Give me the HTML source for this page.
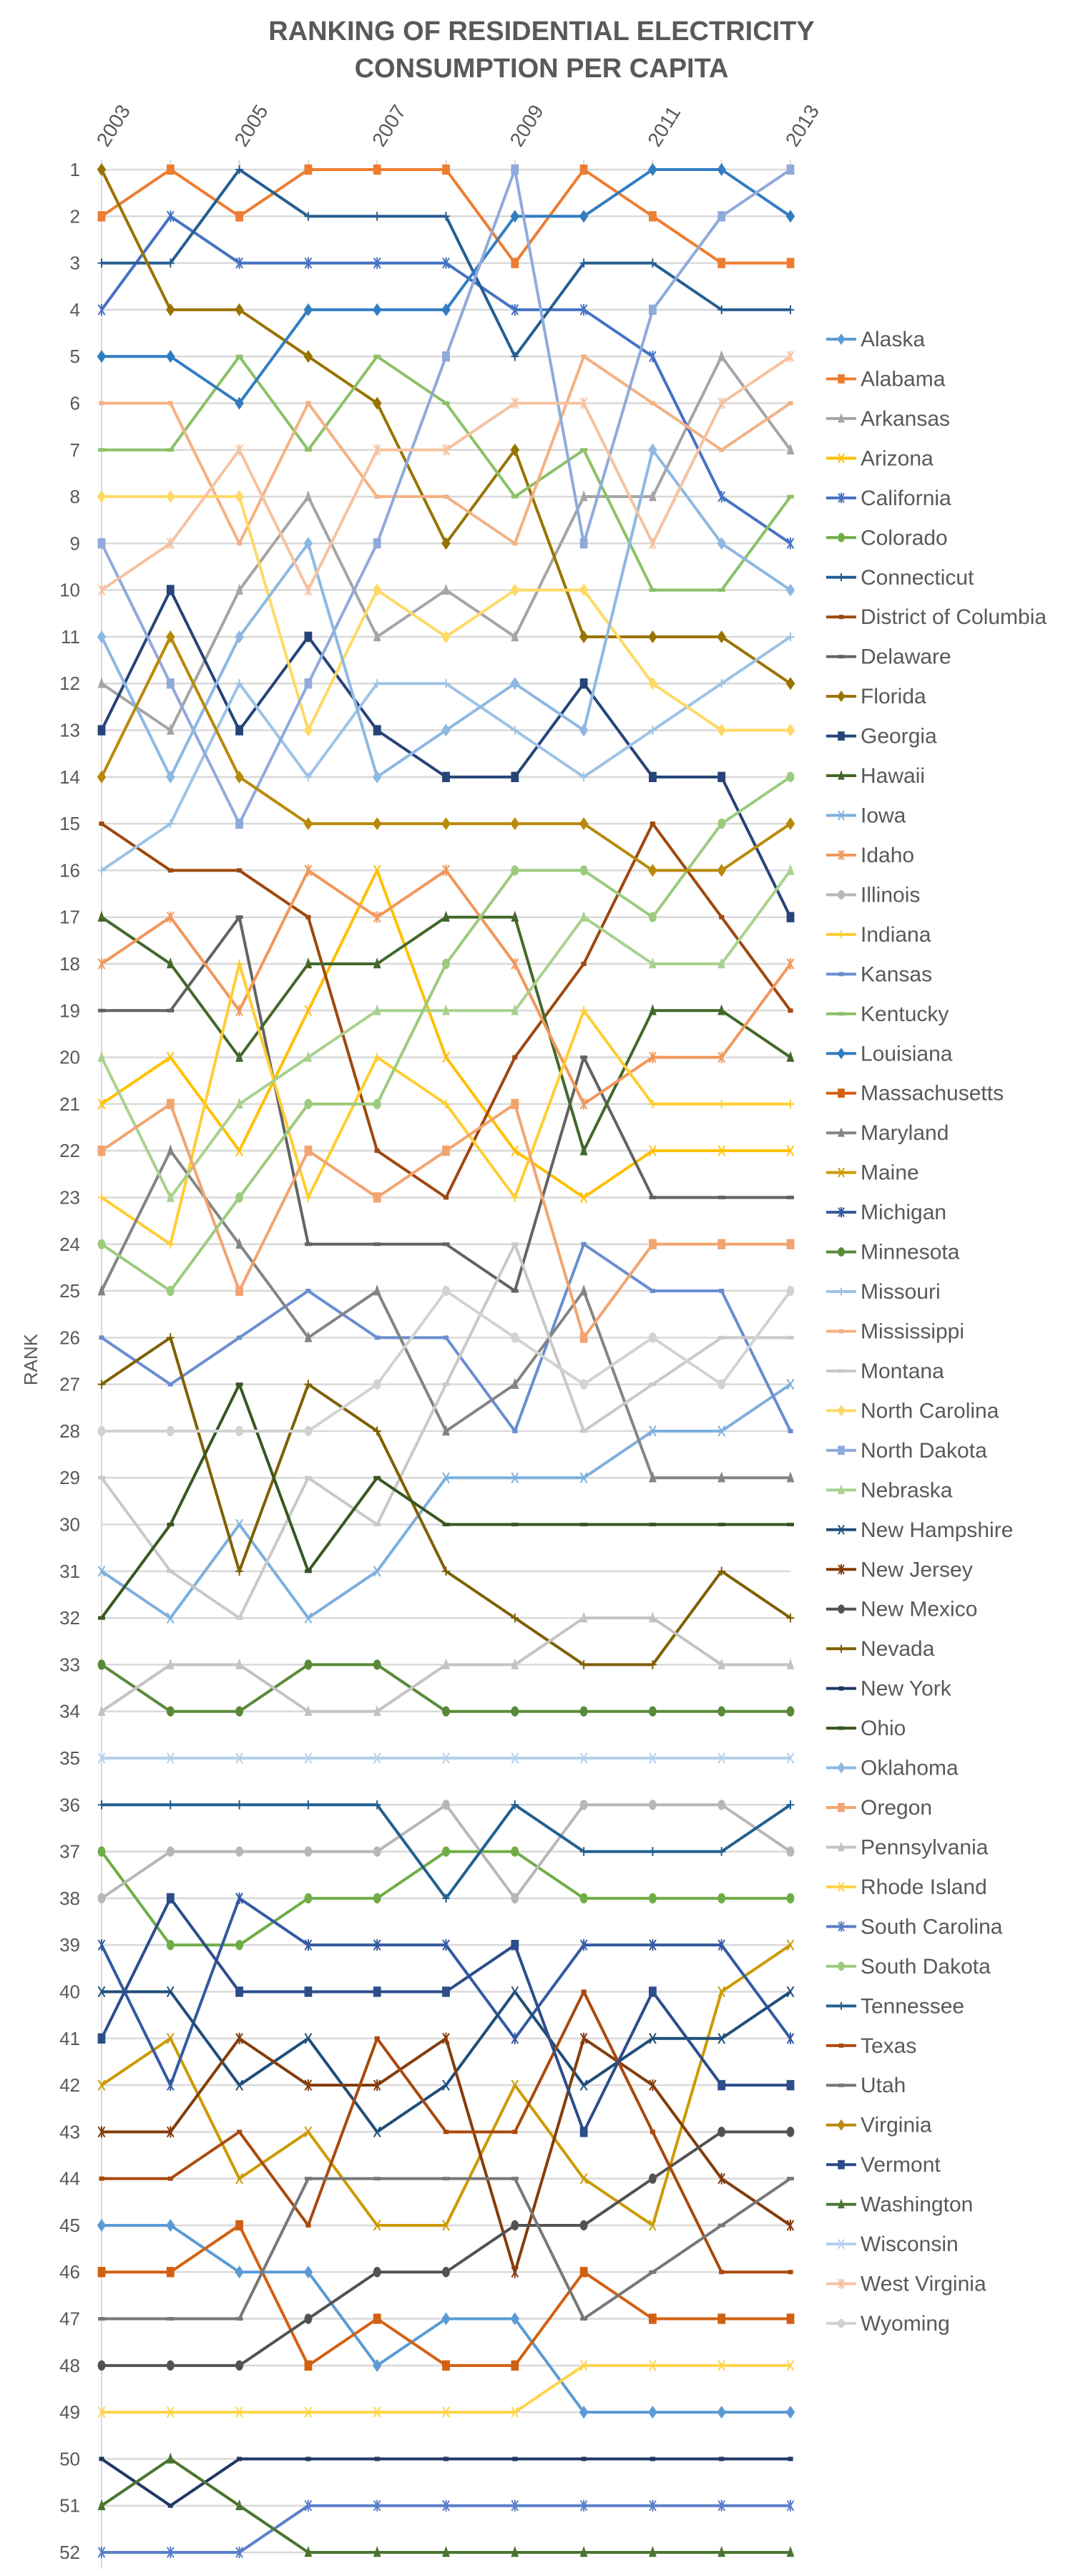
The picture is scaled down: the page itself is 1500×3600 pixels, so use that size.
<!DOCTYPE html>
<html>
<head>
<meta charset="utf-8">
<style>
  html, body { margin: 0; padding: 0; background: #ffffff; }
  svg { display: block; font-family: "Liberation Sans", sans-serif; }
</style>
</head>
<body>
<svg id="chart" width="1500" height="3600" viewBox="0 0 1500 3600" xmlns="http://www.w3.org/2000/svg">
  <text x="757" y="56" text-anchor="middle" font-size="38" font-weight="bold" fill="#595959">RANKING OF RESIDENTIAL ELECTRICITY</text>
  <text x="757" y="108" text-anchor="middle" font-size="38" font-weight="bold" fill="#595959">CONSUMPTION PER CAPITA</text>
  <text x="0" y="0" transform="translate(52,1900) rotate(-90)" text-anchor="middle" font-size="26" fill="#595959">RANK</text>
  <g id="grid"></g>
  <g id="yticks"></g>
  <g id="xticks"></g>
  <g id="series"></g>
  <g id="legend"></g>
</svg>
<script>
const years = [2003, 2004, 2005, 2006, 2007, 2008, 2009, 2010, 2011, 2012, 2013];
const yearLabels = ["2003", "2005", "2007", "2009", "2011", "2013"];
const rankTicks = [1,2,3,4,5,6,7,8,9,10,11,12,13,14,15,16,17,18,19,20,21,22,23,24,25,26,27,28,29,30,31,32,33,34,35,36,37,38,39,40,41,42,43,44,45,46,47,48,49,50,51,52];
const stateNames = ["Alaska","Alabama","Arkansas","Arizona","California","Colorado","Connecticut","District of Columbia","Delaware","Florida","Georgia","Hawaii","Iowa","Idaho","Illinois","Indiana","Kansas","Kentucky","Louisiana","Massachusetts","Maryland","Maine","Michigan","Minnesota","Missouri","Mississippi","Montana","North Carolina","North Dakota","Nebraska","New Hampshire","New Jersey","New Mexico","Nevada","New York","Ohio","Oklahoma","Oregon","Pennsylvania","Rhode Island","South Carolina","South Dakota","Tennessee","Texas","Utah","Virginia","Vermont","Washington","Wisconsin","West Virginia","Wyoming"];

const rankAlaska = [45,45,46,46,48,47,47,49,49,49,49];
const rankAlabama = [2,1,2,1,1,1,3,1,2,3,3];
const rankArkansas = [12,13,10,8,11,10,11,8,8,5,7];
const rankArizona = [21,20,22,19,16,20,22,23,22,22,22];
const rankCalifornia = [4,2,3,3,3,3,4,4,5,8,9];
const rankColorado = [37,39,39,38,38,37,37,38,38,38,38];
const rankConnecticut = [3,3,1,2,2,2,5,3,3,4,4];
const rankDC = [15,16,16,17,22,23,20,18,15,17,19];
const rankDelaware = [19,19,17,24,24,24,25,20,23,23,23];
const rankFlorida = [1,4,4,5,6,9,7,11,11,11,12];
const rankGeorgia = [13,10,13,11,13,14,14,12,14,14,17];
const rankHawaii = [17,18,20,18,18,17,17,22,19,19,20];
const rankIowa = [31,32,30,32,31,29,29,29,28,28,27];
const rankIdaho = [18,17,19,16,17,16,18,21,20,20,18];
const rankIllinois = [38,37,37,37,37,36,38,36,36,36,37];
const rankIndiana = [23,24,18,23,20,21,23,19,21,21,21];
const rankKansas = [26,27,26,25,26,26,28,24,25,25,28];
const rankKentucky = [7,7,5,7,5,6,8,7,10,10,8];
const rankLouisiana = [5,5,6,4,4,4,2,2,1,1,2];
const rankMassachusetts = [46,46,45,48,47,48,48,46,47,47,47];
const rankMaryland = [25,22,24,26,25,28,27,25,29,29,29];
const rankMaine = [42,41,44,43,45,45,42,44,45,40,39];
const rankMichigan = [39,42,38,39,39,39,41,39,39,39,41];
const rankMinnesota = [33,34,34,33,33,34,34,34,34,34,34];
const rankMissouri = [16,15,12,14,12,12,13,14,13,12,11];
const rankMississippi = [6,6,9,6,8,8,9,5,6,7,6];
const rankMontana = [29,31,32,29,30,27,24,28,27,26,26];
const rankNorthCarolina = [8,8,8,13,10,11,10,10,12,13,13];
const rankNorthDakota = [9,12,15,12,9,5,1,9,4,2,1];
const rankNebraska = [20,23,21,20,19,19,19,17,18,18,16];
const rankNewHampshire = [40,40,42,41,43,42,40,42,41,41,40];
const rankNewJersey = [43,43,41,42,42,41,46,41,42,44,45];
const rankNewMexico = [48,48,48,47,46,46,45,45,44,43,43];
const rankNevada = [27,26,31,27,28,31,32,33,33,31,32];
const rankNewYork = [50,51,50,50,50,50,50,50,50,50,50];
const rankOhio = [32,30,27,31,29,30,30,30,30,30,30];
const rankOklahoma = [11,14,11,9,14,13,12,13,7,9,10];
const rankOregon = [22,21,25,22,23,22,21,26,24,24,24];
const rankPennsylvania = [34,33,33,34,34,33,33,32,32,33,33];
const rankRhodeIsland = [49,49,49,49,49,49,49,48,48,48,48];
const rankSouthCarolina = [52,52,52,51,51,51,51,51,51,51,51];
const rankSouthDakota = [24,25,23,21,21,18,16,16,17,15,14];
const rankTennessee = [36,36,36,36,36,38,36,37,37,37,36];
const rankTexas = [44,44,43,45,41,43,43,40,43,46,46];
const rankUtah = [47,47,47,44,44,44,44,47,46,45,44];
const rankVirginia = [14,11,14,15,15,15,15,15,16,16,15];
const rankVermont = [41,38,40,40,40,40,39,43,40,42,42];
const rankWashington = [51,50,51,52,52,52,52,52,52,52,52];
const rankWisconsin = [35,35,35,35,35,35,35,35,35,35,35];
const rankWestVirginia = [10,9,7,10,7,7,6,6,9,6,5];
const rankWyoming = [28,28,28,28,27,25,26,27,26,27,25];

const allRanks = [rankAlaska,rankAlabama,rankArkansas,rankArizona,rankCalifornia,rankColorado,rankConnecticut,rankDC,rankDelaware,rankFlorida,rankGeorgia,rankHawaii,rankIowa,rankIdaho,rankIllinois,rankIndiana,rankKansas,rankKentucky,rankLouisiana,rankMassachusetts,rankMaryland,rankMaine,rankMichigan,rankMinnesota,rankMissouri,rankMississippi,rankMontana,rankNorthCarolina,rankNorthDakota,rankNebraska,rankNewHampshire,rankNewJersey,rankNewMexico,rankNevada,rankNewYork,rankOhio,rankOklahoma,rankOregon,rankPennsylvania,rankRhodeIsland,rankSouthCarolina,rankSouthDakota,rankTennessee,rankTexas,rankUtah,rankVirginia,rankVermont,rankWashington,rankWisconsin,rankWestVirginia,rankWyoming];

const palette = [
  "#5B9BD5","#ED7D31","#A5A5A5","#FFC000","#4472C4","#70AD47",
  "#255E91","#9E480E","#636363","#997300","#264478","#43682B",
  "#7CAFDD","#F1975A","#B7B7B7","#FFCD33","#698ED0","#8CC168",
  "#327DC2","#D26012","#848484","#CC9A00","#335AA1","#5A8A39",
  "#9DC3E6","#F4B183","#C9C9C9","#FFD966","#8FAADC","#A9D18E",
  "#1F4E79","#843C0C","#525252","#7F6000","#203864","#385723",
  "#8DB8E2","#F2A46F","#C3C3C3","#FFD349","#5B7FC9","#9CCB7F",
  "#22608F","#A9490E","#777777","#B8890A","#2D4D8A","#4A7530",
  "#B4D0EC","#F6C2A0","#D2D2D2"
];
const markerTypes = ["diamond","square","triangle","x","star","circle","plus","dash","longdash"];

const NS = "http://www.w3.org/2000/svg";
const X0 = 142, X1 = 1105, Y0 = 237, Y1 = 3567;
function xScale(i) { return X0 + (X1 - X0) * i / (years.length - 1); }
function yScale(r) { return Y0 + (Y1 - Y0) * (r - 1) / 51; }
function mk(tag, attrs, parent) {
  const e = document.createElementNS(NS, tag);
  for (const k in attrs) e.setAttribute(k, attrs[k]);
  parent.appendChild(e);
  return e;
}

function drawMarker(g, type, cx, cy, color, s) {
  let e;
  if (type === "diamond") {
    e = mk("polygon", {points: `${cx},${cy-s} ${cx+s*0.7},${cy} ${cx},${cy+s} ${cx-s*0.7},${cy}`, fill: color}, g);
  } else if (type === "square") {
    e = mk("rect", {x: cx-s*0.6, y: cy-s*0.8, width: s*1.2, height: s*1.6, fill: color}, g);
  } else if (type === "triangle") {
    e = mk("polygon", {points: `${cx},${cy-s} ${cx+s*0.6},${cy+s*0.7} ${cx-s*0.6},${cy+s*0.7}`, fill: color}, g);
  } else if (type === "x") {
    e = mk("path", {d: `M${cx-s*0.5},${cy-s*0.8}L${cx+s*0.5},${cy+s*0.8}M${cx+s*0.5},${cy-s*0.8}L${cx-s*0.5},${cy+s*0.8}`, stroke: color, "stroke-width": 2, fill: "none"}, g);
  } else if (type === "star") {
    e = mk("path", {d: `M${cx-s*0.5},${cy-s*0.8}L${cx+s*0.5},${cy+s*0.8}M${cx+s*0.5},${cy-s*0.8}L${cx-s*0.5},${cy+s*0.8}M${cx},${cy-s*0.9}L${cx},${cy+s*0.9}`, stroke: color, "stroke-width": 2, fill: "none"}, g);
  } else if (type === "circle") {
    e = mk("ellipse", {cx: cx, cy: cy, rx: s*0.6, ry: s*0.8, fill: color}, g);
  } else if (type === "plus") {
    e = mk("path", {d: `M${cx-s*0.6},${cy}L${cx+s*0.6},${cy}M${cx},${cy-s*0.7}L${cx},${cy+s*0.7}`, stroke: color, "stroke-width": 2, fill: "none"}, g);
  } else if (type === "dash") {
    e = mk("rect", {x: cx-s*0.4, y: cy-3, width: s*0.8, height: 6, fill: color}, g);
  } else {
    e = mk("rect", {x: cx-s*0.55, y: cy-2.5, width: s*1.1, height: 5, fill: color}, g);
  }
  return e;
}

const grid = document.getElementById("grid");
const yticks = document.getElementById("yticks");
const xticks = document.getElementById("xticks");
const seriesG = document.getElementById("series");
const legend = document.getElementById("legend");

rankTicks.forEach(r => {
  const y = yScale(r);
  const l = mk("line", {x1: X0, x2: X1, y1: y, y2: y, stroke: "#D9D9D9", "stroke-width": 2.5}, grid);
  
  
  const t = mk("text", {x: 112, y: y + 9, "text-anchor": "end", "font-size": 26, fill: "#595959"}, yticks);
  
  
  t.textContent = r;
});
const axisLine = mk("line", {x1: X0, x2: X0, y1: Y0 - 14, y2: 3590, stroke: "#D9D9D9", "stroke-width": 2}, grid);



years.forEach((yr, i) => {
  const x = xScale(i);
  const tk = mk("line", {x1: x, x2: x, y1: Y0 - 14, y2: Y0, stroke: "#D9D9D9", "stroke-width": 2}, xticks);
  
  
  if (yearLabels.indexOf(String(yr)) >= 0) {
    const t = mk("text", {x: 0, y: 0, transform: `translate(${x + 8},${207}) rotate(-58)`, "font-size": 28, fill: "#595959"}, xticks);
    
    
    t.textContent = yr;
  }
});

allRanks.forEach((ranks, si) => {
  const color = palette[si % palette.length];
  const mtype = markerTypes[si % markerTypes.length];
  const g = mk("g", {}, seriesG);
  
  
  const pts = ranks.map((r, i) => `${xScale(i)},${yScale(r)}`).join(" ");
  const pl = mk("polyline", {points: pts, fill: "none", stroke: color, "stroke-width": 4, "stroke-linejoin": "round"}, g);
  
  
  ranks.forEach((r, i) => {
    const m = drawMarker(g, mtype, xScale(i), yScale(r), color, 9);
    
    
  });

  const ly = 474 + si * 55.46;
  const lg = mk("g", {}, legend);
  
  
  mk("line", {x1: 1155, x2: 1197, y1: ly, y2: ly, stroke: color, "stroke-width": 4}, lg);
  drawMarker(lg, mtype, 1176, ly, color, 8);
  const lt = mk("text", {x: 1203, y: ly + 10, "font-size": 30, fill: "#595959"}, lg);
  
  
  lt.textContent = stateNames[si];
});
</script>
</body>
</html>
